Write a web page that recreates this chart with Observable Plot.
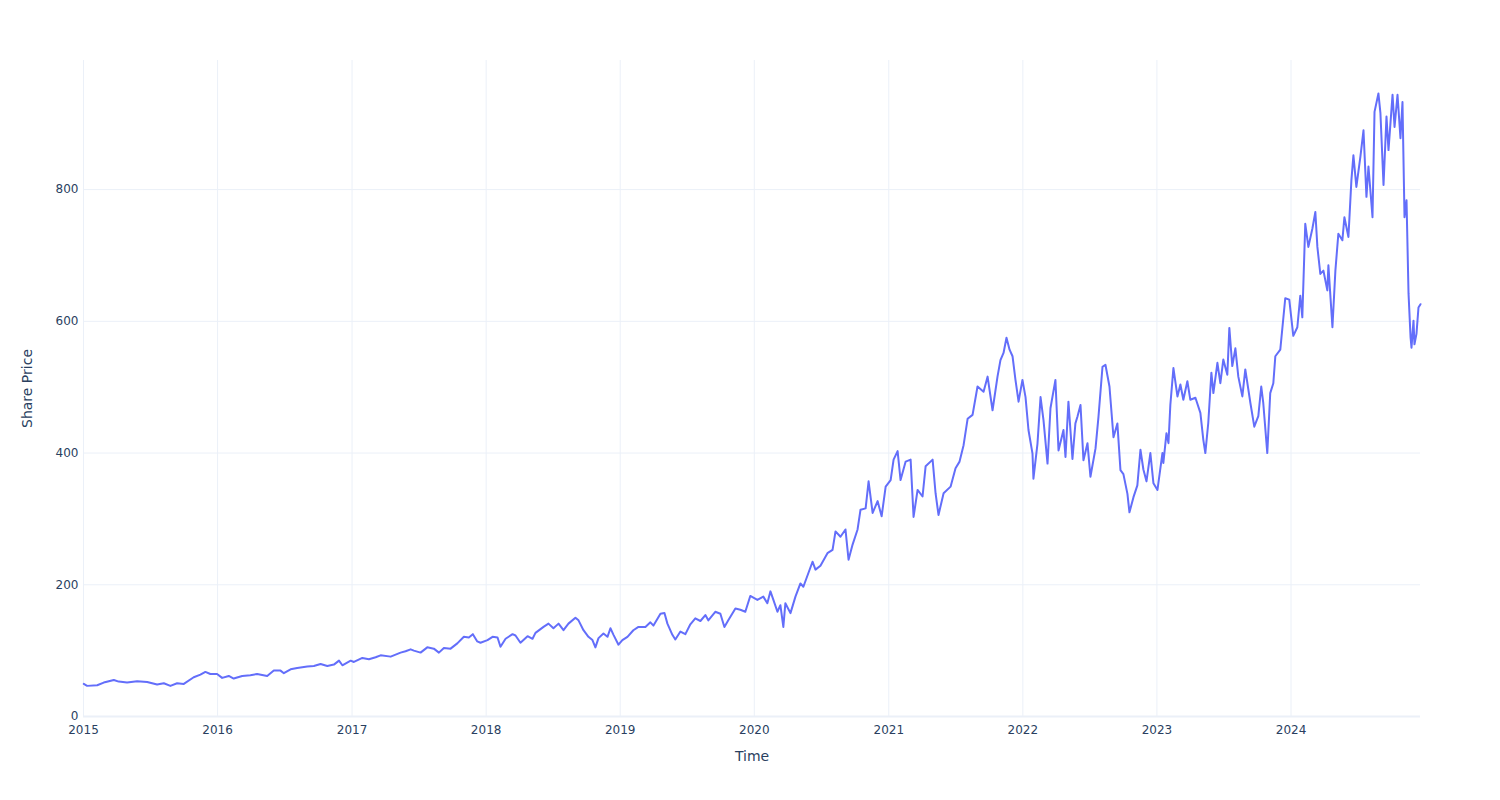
<!DOCTYPE html>
<html><head><meta charset="utf-8">
<script src="https://cdn.jsdelivr.net/npm/d3@7"></script>
<script src="https://cdn.jsdelivr.net/npm/@observablehq/plot@0.6"></script>
<style>body{margin:0;background:#fff;} #chart{width:1500px;height:800px}</style>
</head><body><div id="chart"></div>
<script>
// Time as decimal years
const years = [
2015.002,2015.027,2015.102,2015.151,2015.226,2015.263,2015.325,2015.400,2015.475,2015.549,
2015.599,2015.648,2015.698,2015.748,2015.822,2015.872,2015.909,2015.946,2015.996,2016.034,
2016.083,2016.120,2016.183,2016.244,2016.294,2016.369,2016.418,2016.468,2016.493,2016.543,
2016.592,2016.667,2016.716,2016.766,2016.816,2016.865,2016.903,2016.928,2016.990,2017.014,
2017.077,2017.126,2017.176,2017.213,2017.288,2017.325,2017.362,2017.399,2017.437,2017.461,
2017.511,2017.561,2017.610,2017.648,2017.685,2017.735,2017.785,2017.834,2017.871,2017.901,
2017.934,
2017.958,2018.010,2018.048,2018.085,2018.107,2018.145,2018.197,2018.219,2018.256,2018.309,
2018.346,2018.368,2018.428,2018.465,2018.502,2018.540,2018.577,2018.614,2018.666,2018.689,
2018.726,2018.763,2018.793,2018.815,2018.838,2018.875,2018.905,2018.927,2018.950,2018.987,
2019.016,2019.054,2019.098,2019.136,2019.188,2019.225,2019.248,2019.300,2019.330,2019.352,
2019.389,2019.411,2019.449,2019.486,2019.523,2019.560,2019.598,2019.635,2019.657,2019.709,
2019.747,2019.777,2019.806,2019.859,2019.896,2019.933,2019.970,2020.023,2020.067,2020.097,
2020.120,2020.142,2020.172,2020.194,2020.216,2020.231,2020.269,2020.306,2020.343,
2020.365,2020.433,2020.455,2020.492,2020.544,2020.582,2020.604,2020.641,2020.678,2020.701,
2020.731,2020.768,2020.790,2020.828,2020.850,2020.880,2020.917,2020.947,2020.977,2021.014,
2021.036,2021.066,2021.088,2021.126,2021.163,2021.185,2021.215,2021.252,2021.275,2021.327,
2021.349,2021.371,2021.409,2021.461,2021.498,2021.528,
2021.558,2021.588,2021.625,2021.662,2021.707,2021.737,2021.774,2021.811,2021.833,2021.856,
2021.878,2021.901,2021.923,2021.945,2021.968,2021.997,2022.020,2022.042,2022.072,2022.079,
2022.109,2022.132,2022.154,2022.184,2022.206,2022.243,2022.266,2022.303,2022.318,2022.340,
2022.370,2022.392,2022.407,2022.430,2022.452,2022.482,2022.504,2022.542,2022.564,2022.594,
2022.616,2022.646,2022.676,2022.705,2022.728,2022.750,2022.780,2022.795,2022.825,2022.854,
2022.877,2022.899,2022.922,2022.951,2022.974,2023.004,2023.041,2023.048,2023.071,2023.086,
2023.100,2023.123,2023.153,2023.175,2023.197,2023.227,2023.249,2023.287,2023.324,2023.346,
2023.361,2023.383,2023.406,2023.421,2023.451,2023.473,2023.495,2023.525,2023.540,2023.562,
2023.585,2023.607,2023.637,2023.659,2023.697,2023.726,2023.756,2023.778,2023.793,2023.823,
2023.845,2023.868,2023.883,2023.920,2023.957,2023.987,
2024.017,2024.047,2024.069,2024.084,2024.106,2024.129,2024.159,2024.181,2024.196,2024.218,
2024.241,2024.270,2024.278,2024.308,2024.330,2024.352,2024.382,2024.397,2024.427,2024.449,
2024.464,2024.486,2024.516,2024.539,2024.561,2024.576,2024.606,2024.621,2024.650,2024.665,
2024.688,2024.710,2024.725,2024.755,2024.770,2024.792,2024.814,2024.829,2024.844,2024.859,
2024.874,2024.889,2024.896,2024.911,2024.918,2024.933,2024.948,2024.963
];
const prices = [
49.5,46.5,47.5,51.5,55.5,53,51.5,53.5,52.5,48.5,
50.5,46.5,50.5,49.5,59.6,63.6,67.7,64.6,64.6,58.6,
61.6,57.6,61.6,62.6,64.6,61.6,69.7,69.7,65.7,71.7,
73.7,75.8,76.8,79.8,76.8,78.8,84.8,77.8,84.8,82.8,
88.9,86.9,89.9,92.9,90.9,93.9,97,99,102,100,
97,105,103,97,104,103,111,121,120,125,
114,
112,116,121,120,106,118,125,123,112,122,
118,127,136,141,134,141,131,141,150,146,
131,121,116,105,119,126,121,134,124,109,
116,121,131,136,136,143,138,156,157,141,
124,117,129,125,140,149,145,154,146,159,
156,136,146,164,162,159,183,177,182,172,
190,177,159,169,136,172,157,182,202,
197,235,223,229,248,253,281,273,284,238,
261,284,314,316,357,309,327,304,349,359,
390,403,359,387,390,303,344,334,380,390,
339,306,339,349,377,387,
412,452,458,501,493,516,465,516,541,552,
575,557,547,511,478,511,485,435,399,361,
414,485,450,384,468,511,404,435,394,478,
391,445,455,473,389,415,364,407,455,531,
534,501,424,445,374,368,338,310,333,351,
405,375,357,400,354,344,400,385,430,415,
473,529,486,504,481,509,481,484,461,420,
400,446,522,491,537,506,542,519,590,532,
559,516,486,527,476,440,456,501,476,400,
491,506,547,557,635,633,
578,591,639,606,748,713,741,766,713,672,
677,647,685,591,677,733,723,758,728,814,
852,804,850,890,789,835,758,918,946,916,
807,911,860,944,895,944,878,933,758,784,
642,576,560,601,565,581,621,626
];
const yTicks = [0, 200, 400, 600, 800];
const xTickYears = [2015, 2016, 2017, 2018, 2019, 2020, 2021, 2022, 2023, 2024];
const xTitle = "Time";
const yTitle = "Share Price";

function toDate(t) {
  const y = Math.floor(t);
  const s = Date.UTC(y, 0, 1), e = Date.UTC(y + 1, 0, 1);
  return new Date(s + (t - y) * (e - s));
}
const data = years.map((t, i) => ({date: toDate(t), price: prices[i]}));
const xTicks = xTickYears.map(y => new Date(Date.UTC(y, 0, 1)));

const chart = Plot.plot({
  width: 1500, height: 800,
  marginTop: 60, marginBottom: 84, marginLeft: 83, marginRight: 80,
  style: {fontFamily: "DejaVu Sans", fontSize: "12px", color: "#2a3f5f", background: "#fff"},
  x: {type: "utc", domain: [xTicks[0], d3.max(data, d => d.date)]},
  y: {domain: [0, 996]},
  marks: [
    Plot.gridX(xTicks, {stroke: "#EBF0F8", strokeOpacity: 1}),
    Plot.gridY(yTicks.filter(v => v > 0), {stroke: "#EBF0F8", strokeOpacity: 1}),
    Plot.ruleY([0], {stroke: "#EBF0F8", strokeWidth: 2}),
    Plot.axisX(xTicks, {tickSize: 0, tickPadding: 9, tickFormat: d3.utcFormat("%Y"), label: null}),
    Plot.axisY(yTicks, {tickSize: 0, tickPadding: 5, label: null}),
    Plot.text([xTitle], {frameAnchor: "bottom", dy: 40, lineAnchor: "middle", textAnchor: "middle", fontSize: 14, fill: "#2a3f5f"}),
    Plot.text([yTitle], {frameAnchor: "left", dx: -56, rotate: -90, lineAnchor: "middle", textAnchor: "middle", fontSize: 14, fill: "#2a3f5f"}),
    Plot.line(data, {x: "date", y: "price", stroke: "#636efa", strokeWidth: 2})
  ]
});
document.getElementById("chart").appendChild(chart);
</script>
</body></html>
